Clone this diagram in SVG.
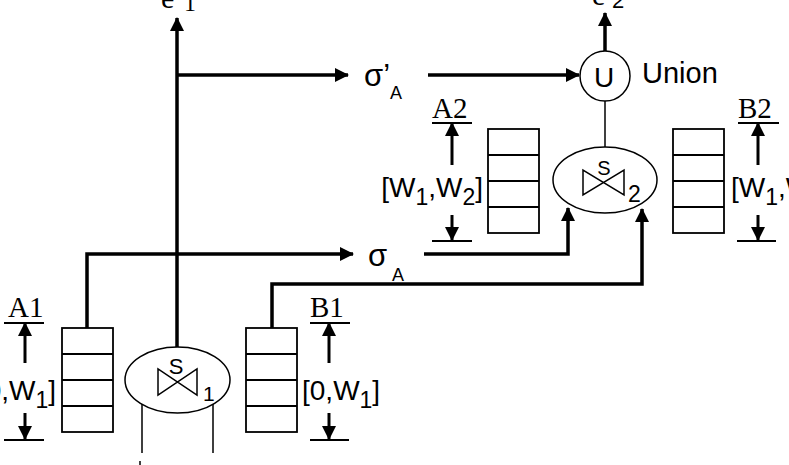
<svg xmlns="http://www.w3.org/2000/svg" width="789" height="465" viewBox="0 0 789 465">
<style>
.sans{font-family:"Liberation Sans",Arial,sans-serif;fill:#000}
.serif{font-family:"Liberation Serif","Times New Roman",serif;fill:#000}
.thick{stroke:#000;stroke-width:3.5;fill:none}
.thin{stroke:#000;stroke-width:1.5;fill:none}
.box{stroke:#000;stroke-width:1.8;fill:#fff}
.ell{stroke:#000;stroke-width:1.5;fill:#fff}
.dim{stroke:#000;stroke-width:3;fill:none}
.base{stroke:#000;stroke-width:1.8}
</style>
<defs>
<marker id="ah" viewBox="0 0 14 14" refX="13" refY="7" markerWidth="14" markerHeight="14" markerUnits="userSpaceOnUse" orient="auto"><path d="M0,0 L14,7 L0,14 Z" fill="#000"/></marker>
<g id="stack"><rect x="0" y="0" width="51" height="104" class="box"/><path d="M0,26 H51 M0,52 H51 M0,78 H51" class="base" fill="none"/></g>
</defs>
<rect width="789" height="465" fill="#fff"/>

<g id="connectors">
<path d="M177,347 V18" class="thick" marker-end="url(#ah)"/>
<path d="M177,75 H348" class="thick" marker-end="url(#ah)"/>
<path d="M87,328 V254 H353" class="thick" marker-end="url(#ah)"/>
<path d="M424,254 H568 V208" class="thick" marker-end="url(#ah)"/>
<path d="M272,328 V284 H642 V209" class="thick" marker-end="url(#ah)"/>
<path d="M428,75 H579" class="thick" marker-end="url(#ah)"/>
<path d="M605,51 V13" class="thick" marker-end="url(#ah)"/>
<path d="M605,101 V147" class="thin"/>
<path d="M142,404 V453 M213,404 V453 M140,461 V465" class="thin"/>
</g>

<g id="e1"><text class="serif" x="161" y="8" font-size="30">e</text><text class="serif" x="184" y="11" font-size="24">1</text></g>
<g id="e2"><text class="serif" x="592" y="5" font-size="30">e</text><text class="sans" x="612" y="8" font-size="22">2</text></g>

<g id="sigmaPrimeA"><text class="sans" x="364" y="86" font-size="31">σ’</text><text class="sans" x="390" y="99" font-size="18">A</text></g>
<g id="sigmaA"><text class="sans" x="368" y="266" font-size="31">σ</text><text class="sans" x="392" y="281" font-size="18">A</text></g>

<g id="union">
<circle cx="605" cy="76" r="25" class="ell"/>
<text class="sans" x="604" y="87" font-size="28" text-anchor="middle">U</text>
<text class="sans" x="642" y="83" font-size="29">Union</text>
</g>

<g id="s1">
<ellipse cx="177.5" cy="380" rx="52.5" ry="33" class="ell"/>
<path d="M158,369 V395 L197,369 V395 Z" class="thin"/>
<text class="sans" x="176" y="374" font-size="22" text-anchor="middle">S</text>
<text class="sans" x="203" y="401" font-size="21">1</text>
</g>

<g id="s2">
<ellipse cx="605" cy="180" rx="52" ry="33" class="ell"/>
<path d="M583,170 V195 L624,170 V195 Z" class="thin"/>
<text class="sans" x="604" y="175" font-size="20" text-anchor="middle">S</text>
<text class="sans" x="628" y="202" font-size="23">2</text>
</g>

<g id="A1">
<use href="#stack" x="62" y="328"/>
<text class="serif" x="8" y="317" font-size="29">A1</text>
<line x1="4" y1="323" x2="44" y2="323" class="base"/>
<path d="M25,363 V323" class="dim" marker-end="url(#ah)"/>
<text class="sans" x="56" y="400" font-size="28" text-anchor="end">[0,W<tspan font-size="23" dy="8">1</tspan><tspan dy="-8">]</tspan></text>
<path d="M25,413 V439" class="dim" marker-end="url(#ah)"/>
<line x1="4" y1="440" x2="44" y2="440" class="base"/>
</g>

<g id="B1">
<use href="#stack" x="246" y="328"/>
<text class="serif" x="310" y="317" font-size="29">B1</text>
<line x1="310" y1="323" x2="350" y2="323" class="base"/>
<path d="M329,363 V323" class="dim" marker-end="url(#ah)"/>
<text class="sans" x="302" y="400" font-size="28">[0,W<tspan font-size="23" dy="8">1</tspan><tspan dy="-8">]</tspan></text>
<path d="M329,413 V439" class="dim" marker-end="url(#ah)"/>
<line x1="310" y1="440" x2="349" y2="440" class="base"/>
</g>

<g id="A2">
<use href="#stack" x="488" y="129"/>
<text class="serif" x="432" y="118" font-size="29">A2</text>
<line x1="432" y1="123" x2="472" y2="123" class="base"/>
<path d="M452,165 V123" class="dim" marker-end="url(#ah)"/>
<text class="sans" x="483" y="197" font-size="28" text-anchor="end">[W<tspan font-size="23" dy="8">1</tspan><tspan dy="-8">,W</tspan><tspan font-size="23" dy="8">2</tspan><tspan dy="-8">]</tspan></text>
<path d="M452,215 V240" class="dim" marker-end="url(#ah)"/>
<line x1="432" y1="241" x2="472" y2="241" class="base"/>
</g>

<g id="B2">
<use href="#stack" x="673" y="129"/>
<text class="serif" x="738" y="118" font-size="29">B2</text>
<line x1="738" y1="123" x2="779" y2="123" class="base"/>
<path d="M758,165 V123" class="dim" marker-end="url(#ah)"/>
<text class="sans" x="731" y="197" font-size="28">[W<tspan font-size="23" dy="8">1</tspan><tspan dy="-8">,W</tspan><tspan font-size="23" dy="8">2</tspan><tspan dy="-8">]</tspan></text>
<path d="M758,215 V240" class="dim" marker-end="url(#ah)"/>
<line x1="737" y1="241" x2="776" y2="241" class="base"/>
</g>
</svg>
